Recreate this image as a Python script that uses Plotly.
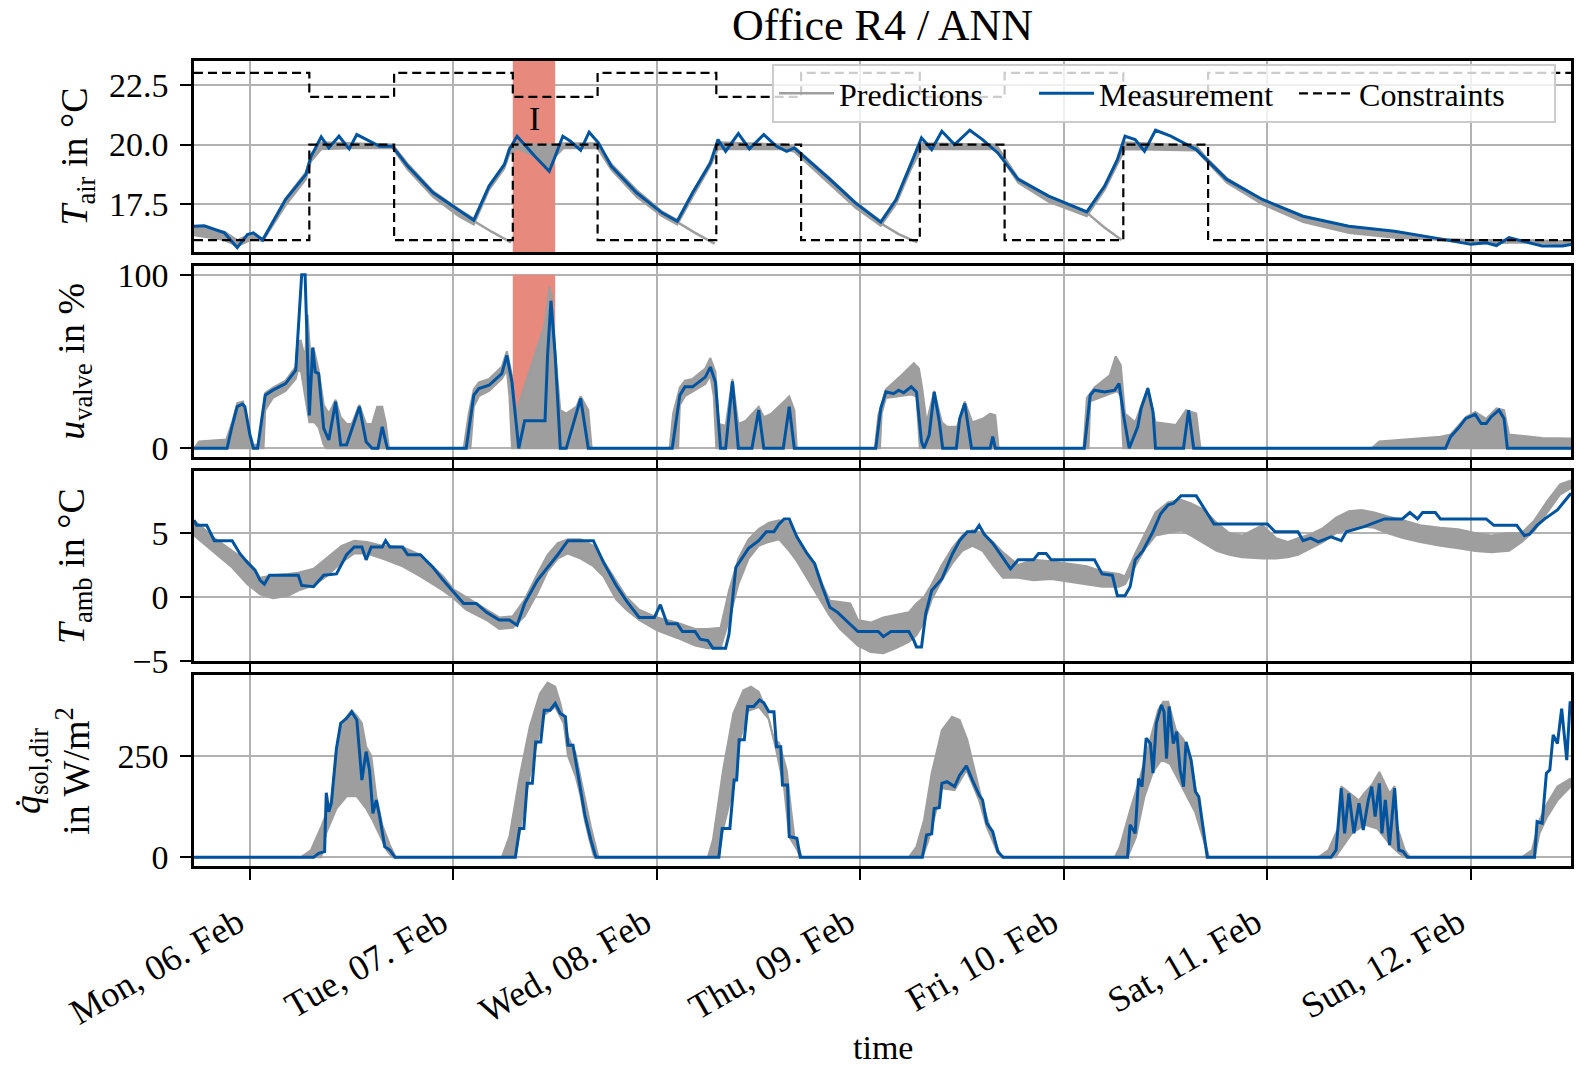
import pandas as pd
import plotly.graph_objects as go

# ---------------- data (time in hours after Mon 06 Feb 2023 00:00) ----------------
BASE = pd.Timestamp("2023-02-06 00:00")
x_range_h = [-6.6, 155.8]
day_ticks_h = [0, 24, 48, 72, 96, 120, 144]
day_labels = ["Mon, 06. Feb", "Tue, 07. Feb", "Wed, 08. Feb", "Thu, 09. Feb",
              "Fri, 10. Feb", "Sat, 11. Feb", "Sun, 12. Feb"]
highlight_h = [31, 36]
highlight_label = "I"

# axis ranges / ticks
tair_range = [15.5, 23.5]
uv_range = [-5, 105]
tamb_range = [-5, 9.84]
qsol_range = [-21.4, 448.6]

# constraints (step)
constr_h = [-6.6, 7, 17, 31, 41, 55, 65, 79, 89, 103, 113, 155.8]
constr_lo = [16, 20, 16, 20, 16, 20, 16, 20, 16, 20, 16, 16]
constr_hi = [23, 22, 23, 22, 23, 22, 23, 22, 23, 22, 23, 23]

# T_air measurement
tair_h = [-6.6, -5.4, -3.0, -1.5, -0.3, 0.4, 1.5, 4.2, 6.6, 7.2, 8.4, 9.3, 10.5, 11.7, 12.6, 13.8, 15.3, 16.8,
          18.6, 21.6, 24.6, 26.4, 28.2, 30.0, 30.6, 31.5, 33.6, 35.3, 36.0, 36.9, 37.8, 39.0, 40.0, 41.1, 42.6,
          45.6, 48.6, 50.4, 52.2, 54.3, 55.2, 56.1, 57.6, 58.9, 60.6, 62.1, 63.3, 64.2, 68.4, 71.4, 74.4, 76.2,
          78.0, 79.2, 80.4, 81.6, 83.1, 84.9, 86.4, 88.2, 90.6, 94.2, 98.7, 100.8, 102.3, 103.2, 104.4, 105.5,
          106.8, 108.6, 111.6, 112.8, 115.2, 119.4, 124.2, 129.6, 135.0, 140.4, 144.0, 145.8, 147.0, 148.5,
          150.0, 152.4, 154.8, 155.8]
tair_v = [16.58, 16.6, 16.3, 15.68, 16.23, 16.3, 16.0, 17.7, 18.75, 19.5, 20.32, 19.86, 20.35, 19.82, 20.42,
          20.2, 19.93, 19.93, 19.1, 17.98, 17.28, 16.83, 18.26, 19.16, 19.8, 20.35, 19.51, 18.88, 19.51, 20.35,
          20.14, 19.76, 20.52, 20.07, 19.1, 17.98, 17.14, 16.79, 17.98, 19.23, 20.21, 19.72, 20.46, 19.82, 20.42,
          19.93, 19.72, 19.86, 18.54, 17.56, 16.75, 17.7, 19.23, 20.28, 19.79, 20.56, 20.0, 20.6, 20.21, 19.65,
          18.54, 17.84, 17.18, 18.26, 19.37, 20.35, 20.21, 19.72, 20.6, 20.35, 19.79, 19.37, 18.54, 17.7, 17.0,
          16.58, 16.37, 16.05, 15.82, 15.89, 15.77, 16.1, 15.96, 15.75, 15.75, 15.82]
# T_air prediction envelope
tair_band_h = [-6.6, -3.0, -1.5, 0.4, 1.5, 4.2, 6.6, 7.2, 8.4, 12.0, 16.8, 18.6, 21.6, 24.6, 26.4, 28.2, 30.0,
               30.6, 31.5, 33.6, 35.3, 36.0, 37.0, 41.0, 42.6, 45.6, 48.6, 50.4, 52.2, 54.3, 55.2, 63.0, 64.2,
               68.4, 71.4, 74.4, 76.2, 78.0, 79.2, 88.0, 90.6, 94.2, 98.7, 100.8, 102.3, 103.2, 111.6, 112.8,
               115.2, 119.4, 124.2, 129.6, 135.0, 140.4, 144.0, 150.0, 155.8]
tair_band_lo = [16.2, 16.0, 15.75, 16.05, 15.95, 17.45, 18.55, 19.3, 19.8, 19.85, 19.85, 18.95, 17.8, 17.0,
                16.65, 18.1, 19.0, 19.6, 19.85, 19.5, 18.9, 19.5, 19.85, 19.85, 18.95, 17.8, 17.0, 16.65, 17.8,
                19.1, 19.8, 19.8, 19.7, 18.35, 17.35, 16.6, 17.5, 19.0, 19.8, 19.8, 18.4, 17.6, 17.0, 18.1, 19.2,
                19.8, 19.75, 19.3, 18.4, 17.5, 16.75, 16.3, 16.1, 16.0, 15.85, 15.9, 15.8]
tair_band_hi = [16.6, 16.35, 16.0, 16.3, 16.05, 17.75, 18.85, 19.6, 20.1, 20.05, 20.0, 19.2, 18.05, 17.3, 16.9,
                18.3, 19.2, 19.9, 20.1, 20.0, 20.0, 20.0, 20.05, 20.05, 19.2, 18.1, 17.2, 16.85, 18.0, 19.3,
                20.1, 20.0, 19.9, 18.6, 17.6, 16.8, 17.7, 19.25, 20.05, 20.0, 18.6, 17.85, 17.2, 18.3, 19.4,
                20.1, 19.95, 19.45, 18.6, 17.7, 17.0, 16.55, 16.35, 16.05, 16.0, 16.0, 15.95]
# single prediction trajectories that keep cooling down
tair_tail_h = [26.4, 28.5, 30.8, None, 50.4, 52.5, 54.8, None, 74.4, 76.5, 78.7, None, 98.7, 100.7, 102.8]
tair_tail_v = [16.8, 16.35, 15.9, None, 16.75, 16.3, 15.85, None, 16.7, 16.25, 15.9, None, 17.15, 16.55, 16.0]

# u_valve measurement
uv_h = [-6.6, -2.7, -2.1, -1.5, -0.9, -0.6, 0.0, 0.4, 0.9, 1.8, 2.7, 4.2, 5.4, 5.6, 5.9, 6.1, 6.5, 6.8, 7.0,
        7.4, 7.7, 8.1, 8.7, 9.3, 10.1, 10.7, 11.4, 12.3, 12.9, 13.7, 14.4, 15.1, 15.6, 16.2, 25.5, 26.4, 27.0,
        28.2, 29.7, 30.3, 30.9, 31.7, 32.4, 34.8, 35.1, 35.5, 36.0, 36.6, 37.3, 39.0, 39.9, 49.8, 50.7, 51.3,
        52.2, 53.7, 54.3, 54.9, 55.5, 56.1, 56.9, 57.6, 59.2, 60.0, 60.6, 62.9, 63.6, 64.2, 73.8, 74.4, 75.0,
        75.9, 76.5, 77.1, 78.0, 78.6, 79.2, 79.5, 80.1, 80.7, 81.3, 81.7, 83.3, 83.7, 84.3, 85.1, 87.3, 87.6,
        87.9, 98.4, 99.1, 99.6, 100.8, 102.0, 102.5, 103.1, 103.7, 104.7, 105.1, 105.9, 106.5, 106.8, 110.1,
        110.7, 111.3, 141.0, 141.6, 142.5, 143.4, 144.5, 145.2, 145.8, 146.4, 147.3, 147.9, 148.3, 155.8]
uv_v = [0, 0, 13, 24, 25.5, 24, 7.6, 0, 0, 30.6, 33.5, 37.3, 45, 61, 80, 100, 100, 53.5, 19, 58, 44, 43, 11.5,
        4.8, 26.8, 1.9, 2, 15, 24, 3.8, 0, 0, 12.4, 0, 0, 30.6, 34.4, 36.3, 43, 53.5, 38, 0, 15.9, 15.9, 53.5,
        85, 53.5, 0, 0, 28.7, 0, 0, 30.6, 35.4, 35.4, 41, 46.8, 38, 0, 0, 38.6, 0, 0, 22, 0, 0, 24, 0, 0, 23,
        32.5, 31.5, 33.5, 32, 35.4, 32.5, 3.8, 0, 7.6, 32.5, 15.3, 0, 0, 17, 25.8, 0, 0, 6.7, 0, 0, 30.6, 33.5,
        32.5, 33.5, 37.3, 17, 0, 12.4, 23, 34.4, 21, 0, 0, 22, 0, 0, 6.7, 11.5, 17.2, 19.5, 14.3, 14.3, 18.2,
        22, 17.2, 0, 0]
# u_valve prediction envelope
uv_hi_h = [-6.6, -6.0, -3.2, -2.8, -2.1, -1.5, -0.8, -0.2, 0.4, 1.0, 1.5, 1.8, 2.7, 4.2, 5.4, 5.6, 6.0, 6.5,
           6.8, 7.1, 7.5, 8.1, 8.7, 9.3, 10.1, 10.7, 11.4, 12.0, 12.9, 13.7, 14.4, 15.0, 15.6, 16.0, 16.4, 25.2,
           25.8, 26.4, 27.0, 28.2, 29.7, 30.3, 30.9, 31.3, 32.0, 33.0, 34.0, 34.8, 35.3, 35.6, 36.0, 36.6, 37.3,
           38.5, 39.0, 39.9, 40.3, 49.5, 49.9, 50.7, 51.3, 52.2, 53.7, 54.3, 54.9, 55.3, 56.1, 56.9, 57.6, 58.5,
           60.0, 60.6, 61.5, 62.4, 63.2, 63.6, 64.2, 64.5, 73.7, 74.1, 75.0, 76.8, 78.3, 78.9, 79.3, 79.8, 80.7,
           81.6, 82.2, 83.4, 84.3, 85.2, 86.4, 87.3, 87.9, 88.3, 98.3, 98.7, 99.6, 101.4, 102.1, 102.7, 103.2,
           104.4, 105.9, 106.8, 109.2, 110.4, 111.6, 112.1, 132.3, 133.2, 140.4, 141.6, 142.5, 143.4, 144.5,
           145.8, 147.0, 147.9, 148.5, 152.4, 155.8]
uv_hi_v = [0, 4, 5, 5, 15, 26, 27, 12, 2, 2, 20, 32, 35, 39, 47, 62, 62, 52, 77, 55, 58, 45, 25, 20, 28, 18,
           14, 14, 25, 14, 14, 24, 24, 15, 0, 0, 20, 34, 38, 40, 47, 56, 42, 20, 30, 45, 60, 72, 93, 88, 55, 22,
           20, 24, 30, 22, 0, 0, 20, 35, 39, 40, 46, 52, 44, 14, 13, 40, 14, 16, 24, 18, 20, 24, 28, 30, 22, 0,
           0, 19, 34, 42, 49, 46, 34, 15, 33, 15, 12.4, 12.4, 27, 15, 17, 20, 19, 0, 0, 29, 35, 42, 53, 48, 20,
           15, 35, 15, 13.4, 22, 20, 0, 0, 4, 6.7, 8, 13, 18, 21, 17, 23, 22, 8, 6, 5.7]
uv_lo_h = [-6.6, 1.6, 1.8, 2.7, 4.2, 5.4, 5.6, 6.0, 6.5, 7.0, 7.6, 8.1, 8.7, 9.0, 26.0, 26.4, 27.0, 28.2, 29.7,
           30.3, 30.6, 30.9, 50.5, 50.7, 51.3, 53.7, 54.3, 54.7, 55.0, 74.3, 74.5, 75.0, 78.0, 78.6, 79.0, 98.9,
           99.1, 100.8, 102.3, 102.7, 103.0, 155.8]
uv_lo_v = [0, 0, 22, 29, 33, 40, 44, 45, 30, 15, 15, 12, 2, 0, 0, 24, 30, 33, 40, 45, 30, 0, 0, 25, 30, 37,
           42, 30, 0, 0, 20, 29, 31, 30, 0, 0, 27, 30, 33, 30, 0, 0]

# T_amb measurement
tamb_h = [-6.6, -6.3, -5.1, -4.2, -2.1, -1.2, -0.3, 0.6, 1.2, 1.7, 2.3, 5.7, 6.1, 7.5, 8.7, 10.2, 11.4, 12.3,
          13.2, 13.7, 14.3, 15.6, 16.0, 16.5, 18.0, 18.6, 20.1, 21.6, 22.8, 24.0, 25.2, 26.7, 27.9, 29.4, 30.6,
          31.5, 32.4, 33.9, 35.1, 36.3, 37.5, 40.5, 41.7, 43.2, 44.4, 45.9, 47.7, 48.4, 49.2, 50.4, 51.0, 52.5,
          53.1, 54.0, 54.6, 56.1, 56.5, 57.3, 58.8, 60.0, 60.9, 61.8, 62.4, 63.0, 63.6, 64.5, 65.7, 66.6, 67.5,
          68.4, 69.3, 70.8, 71.7, 74.1, 74.7, 75.6, 77.7, 78.3, 78.6, 79.2, 79.7, 80.4, 81.6, 82.8, 83.7, 84.6,
          85.5, 86.0, 86.6, 87.6, 88.8, 89.7, 90.6, 92.4, 93.0, 93.9, 94.5, 99.6, 100.5, 101.7, 102.3, 103.2,
          103.8, 104.4, 105.3, 106.5, 107.4, 108.3, 108.9, 109.8, 111.6, 112.5, 113.7, 120.0, 120.9, 123.6,
          124.2, 125.1, 126.0, 127.5, 128.7, 129.3, 131.4, 133.8, 135.9, 136.8, 137.7, 138.3, 139.8, 140.4,
          145.8, 146.7, 149.4, 150.3, 150.9, 151.8, 152.7, 154.2, 155.4, 155.8]
tamb_v = [6.0, 5.6, 5.6, 4.4, 4.4, 3.4, 2.7, 2.1, 1.3, 1.0, 1.7, 1.7, 0.9, 0.8, 1.7, 1.8, 3.3, 3.9, 3.9, 2.9,
          3.9, 3.9, 4.4, 3.9, 3.9, 3.3, 3.3, 2.3, 1.3, 0.4, -0.5, -0.5, -1.2, -1.8, -1.8, -2.2, -0.5, 1.3, 2.3,
          3.3, 4.4, 4.4, 2.7, 0.9, -0.3, -1.6, -1.6, -0.6, -2.1, -2.1, -2.7, -2.7, -3.3, -3.4, -4.0, -4.0, -2.9,
          2.3, 3.8, 4.4, 5.1, 5.1, 5.7, 6.1, 6.1, 4.7, 3.4, 2.6, 0.8, -0.8, -1.2, -2.1, -2.7, -2.7, -3.1, -2.7,
          -2.7, -3.4, -3.9, -3.9, -1.3, 0.5, 1.4, 3.3, 4.4, 5.1, 5.1, 5.6, 4.9, 4.2, 3.1, 2.2, 2.9, 2.9, 3.4,
          3.4, 2.9, 2.9, 1.8, 1.7, 0.1, 0.1, 0.8, 2.9, 3.6, 5.1, 6.5, 7.2, 7.3, 7.9, 7.9, 7.0, 5.7, 5.7, 5.1,
          5.1, 4.4, 4.6, 4.3, 4.7, 4.4, 5.1, 5.5, 6.1, 6.1, 6.6, 6.1, 6.6, 6.6, 6.1, 6.1, 5.6, 5.6, 4.8, 4.9,
          5.6, 6.1, 6.8, 7.8, 8.1]
# T_amb prediction envelope
tamb_band_h = [-6.6, -4.2, -2.1, -0.3, 1.2, 2.7, 4.5, 5.7, 7.5, 9.0, 10.8, 12.3, 13.8, 15.6, 18.0, 20.1, 22.8,
               24.0, 25.5, 27.9, 29.4, 31.0, 32.4, 33.9, 35.1, 36.3, 37.5, 39.0, 40.5, 41.7, 43.2, 44.4, 45.9,
               48.0, 50.4, 52.5, 54.0, 55.5, 56.5, 57.6, 58.8, 60.0, 61.2, 62.4, 63.6, 64.5, 65.7, 66.6, 67.5,
               68.4, 69.6, 70.8, 71.7, 73.2, 74.7, 76.2, 77.7, 78.6, 79.5, 80.4, 81.6, 82.8, 84.0, 85.2, 86.4,
               87.6, 88.8, 90.6, 92.4, 94.5, 96.6, 98.7, 100.5, 101.7, 102.5, 103.2, 104.4, 105.6, 106.8, 108.3,
               109.8, 111.0, 112.5, 114.0, 115.5, 117.0, 119.4, 121.0, 122.4, 123.6, 125.1, 126.6, 128.1, 129.6,
               131.1, 132.6, 134.1, 136.0, 138.0, 140.4, 142.5, 144.5, 146.4, 148.5, 150.0, 151.5, 153.0, 154.5,
               155.8]
tamb_band_lo = [4.8, 3.5, 2.3, 1.0, 0.2, -0.1, 0.1, 0.5, 0.9, 1.6, 2.7, 3.4, 3.4, 3.0, 2.4, 1.6, 0.5, -0.1,
                -1.0, -1.8, -2.5, -2.4, -1.5, 0.3, 2.0, 3.0, 3.4, 3.0, 2.4, 1.6, -0.2, -1.0, -1.8, -2.6, -3.2,
                -3.8, -4.0, -4.0, -1.8, 1.0, 3.0, 4.0, 4.3, 4.5, 3.6, 2.8, 1.5, 0.5, -0.5, -1.5, -2.5, -3.2,
                -3.8, -4.3, -4.4, -4.0, -3.5, -3.0, -2.0, -0.2, 1.3, 2.6, 3.6, 4.0, 3.6, 2.5, 1.5, 1.5, 1.3, 1.4,
                1.2, 1.0, 0.8, 0.8, 0.8, 1.0, 2.4, 3.8, 4.8, 5.0, 5.2, 4.8, 4.2, 3.6, 3.3, 3.1, 3.0, 3.0, 3.1,
                3.3, 3.8, 4.3, 5.0, 5.3, 5.5, 5.4, 5.0, 4.6, 4.3, 4.0, 3.8, 3.6, 3.5, 3.6, 4.3, 5.2, 6.6, 8.0,
                8.5]
tamb_band_hi = [6.0, 4.6, 3.6, 2.8, 1.5, 1.7, 1.8, 1.9, 2.2, 3.0, 4.0, 4.4, 4.3, 4.0, 3.9, 3.3, 1.6, 0.6, 0.0,
                -1.0, -1.6, -1.5, -0.2, 1.8, 3.3, 4.2, 4.5, 4.5, 4.0, 2.8, 1.2, 0.0, -1.0, -1.6, -2.0, -2.5,
                -2.5, -2.4, 0.5, 3.0, 4.5, 5.3, 5.8, 6.0, 5.8, 4.7, 3.4, 2.6, 1.0, -0.3, -0.4, -0.5, -1.8, -2.0,
                -1.6, -1.4, -1.2, -0.5, 0.0, 1.0, 2.5, 3.8, 4.8, 5.2, 5.0, 4.3, 3.5, 2.5, 2.9, 2.8, 2.6, 2.4,
                2.0, 1.9, 1.8, 1.6, 3.4, 5.0, 6.6, 7.4, 7.6, 7.3, 6.8, 5.8, 5.0, 4.8, 5.6, 4.6, 4.3, 4.6, 4.9,
                5.4, 6.2, 6.7, 6.8, 6.6, 6.3, 6.0, 5.6, 5.4, 5.3, 5.0, 4.8, 5.0, 5.0, 6.0, 7.5, 8.8, 9.1]

# q_sol,dir measurement
qsol_h = [-6.6, 7.5, 8.1, 8.8, 9.0, 9.3, 9.6, 10.2, 10.7, 11.4, 12.0, 12.6, 13.2, 13.7, 14.1, 14.5, 14.9, 15.3,
          15.9, 16.5, 17.1,
          31.3, 31.8, 32.3, 32.7, 33.3, 33.7, 34.3, 34.7, 35.4, 36.0, 36.6, 37.2, 37.5, 38.1, 38.4, 39.0, 39.5,
          40.2, 40.8,
          55.3, 55.7, 56.6, 57.1, 57.4, 57.7, 58.3, 58.7, 59.4, 60.1, 60.6, 61.2, 61.8, 62.1, 62.6, 62.8, 63.4,
          63.6, 64.5, 64.9,
          79.3, 79.8, 80.4, 80.7, 81.3, 81.6, 82.2, 83.1, 83.7, 84.5, 85.2, 86.0, 86.4, 86.9, 87.6, 88.2, 88.8,
          103.5, 103.8, 104.4, 104.8, 105.2, 105.7, 106.2, 106.5, 106.9, 107.5, 107.8, 108.1, 108.4, 108.9,
          109.3, 109.7, 110.1, 110.4, 111.0, 111.5, 111.9, 112.5, 112.9,
          127.5, 128.1, 128.7, 129.1, 129.6, 130.2, 130.8, 131.3, 131.9, 132.3, 132.7, 133.2, 133.5, 133.9,
          134.4, 135.0, 135.5, 136.0, 136.5,
          151.5, 151.8, 152.4, 152.9, 153.3, 153.7, 154.2, 154.7, 155.3, 155.7, 155.8]
qsol_v = [0, 0, 10, 14, 159, 112, 133, 268, 330, 342, 358, 338, 190, 260, 215, 108, 141, 100, 26, 18, 0,
          0, 71, 71, 182, 182, 284, 284, 362, 362, 379, 354, 346, 276, 276, 239, 174, 104, 43, 0,
          0, 71, 71, 190, 190, 289, 289, 371, 371, 387, 380, 358, 358, 272, 272, 178, 178, 51, 47, 0,
          0, 55, 58, 120, 122, 182, 186, 174, 202, 225, 190, 153, 141, 84, 63, 14, 0,
          0, 80, 59, 194, 174, 293, 280, 207, 330, 375, 358, 243, 371, 280, 309, 215, 174, 284, 239, 162, 149,
          59, 0,
          0, 18, 170, 59, 157, 59, 133, 67, 141, 174, 100, 182, 59, 141, 30, 170, 18, 14, 0,
          0, 88, 84, 207, 215, 301, 280, 366, 239, 383, 380]
# q_sol,dir prediction envelope
qsol_hi_h = [-6.6, 6.0, 7.2, 8.4, 9.6, 10.2, 10.8, 12.0, 12.6, 13.2, 13.7, 14.3, 14.9, 15.6, 16.5, 17.2, 29.7,
             30.6, 31.8, 33.0, 34.2, 35.1, 36.0, 36.6, 37.5, 38.4, 39.3, 40.2, 41.1, 54.0, 54.6, 55.8, 57.0,
             58.2, 59.1, 60.0, 60.9, 61.8, 62.4, 63.3, 63.8, 64.2, 65.1, 77.7, 78.6, 79.5, 80.4, 81.6, 82.8,
             83.7, 84.6, 85.5, 86.4, 87.6, 88.5, 89.1, 102.0, 102.6, 103.8, 105.0, 106.2, 107.1, 107.7, 108.3,
             109.2, 110.1, 111.0, 112.2, 113.1, 126.0, 127.2, 128.4, 128.7, 129.6, 130.8, 131.4, 132.3, 133.2,
             134.4, 135.0, 135.3, 136.2, 136.8, 150.0, 151.2, 152.1, 153.0, 154.2, 155.8]
qsol_hi_v = [0, 0, 18, 75, 140, 270, 330, 362, 348, 330, 272, 250, 150, 80, 30, 0, 0, 51, 198, 321, 403, 430,
             420, 379, 297, 256, 165, 75, 0, 0, 43, 215, 354, 411, 420, 407, 362, 289, 282, 215, 120, 51, 0, 0,
             26, 92, 207, 313, 346, 338, 289, 207, 133, 51, 6, 0, 0, 26, 116, 198, 289, 362, 383, 383, 313, 290,
             240, 75, 0, 0, 18, 75, 175, 160, 140, 157, 178, 210, 157, 175, 75, 18, 0, 0, 18, 92, 133, 174, 194]
qsol_lo_h = [-6.6, 8.4, 9.0, 10.2, 11.4, 12.6, 13.7, 14.5, 15.3, 16.2, 16.8, 31.3, 31.8, 32.7, 33.7, 34.7,
             36.0, 37.0, 37.5, 38.4, 39.0, 39.5, 40.2, 40.6, 55.3, 55.7, 57.1, 57.7, 58.7, 60.0, 61.2, 62.1,
             63.0, 63.6, 64.5, 64.9, 79.3, 80.0, 81.6, 83.1, 84.5, 85.2, 86.0, 86.9, 88.2, 88.8, 103.5, 104.5,
             105.5, 106.5, 107.5, 108.5, 109.5, 110.5, 111.5, 112.5, 113.0, 128.0, 129.0, 130.0, 131.5, 133.0,
             134.5, 135.5, 136.2, 151.5, 152.1, 153.0, 154.2, 155.8]
qsol_lo_v = [0, 0, 60, 120, 150, 150, 120, 90, 55, 15, 0, 0, 60, 170, 270, 350, 370, 330, 250, 200, 150, 90,
             30, 0, 0, 60, 180, 280, 360, 370, 340, 260, 170, 50, 20, 0, 0, 40, 170, 165, 215, 180, 140, 75,
             10, 0, 0, 50, 150, 210, 240, 230, 190, 150, 110, 40, 0, 0, 30, 60, 80, 70, 30, 10, 0, 0, 60, 100,
             140, 175]

# ---------------- styling ----------------
FONT = "Liberation Serif"
BLUE = "rgb(0,84,159)"
GREY = "rgb(158,158,158)"
GRID = "rgb(178,178,178)"
RED = "rgb(232,137,125)"


def ts(hours):
    return [None if h is None else (BASE + pd.Timedelta(minutes=round(h * 60))).strftime("%Y-%m-%d %H:%M:%S")
            for h in hours]


fig = go.Figure()


def band(lo_h, lo_v, hi_h, hi_v, xa, ya):
    fig.add_trace(go.Scatter(x=ts(lo_h), y=lo_v, mode="lines", line=dict(color=GREY, width=2),
                             showlegend=False, hoverinfo="skip", xaxis=xa, yaxis=ya))
    fig.add_trace(go.Scatter(x=ts(hi_h), y=hi_v, mode="lines", line=dict(color=GREY, width=2),
                             fill="tonexty", fillcolor=GREY, showlegend=False, hoverinfo="skip",
                             xaxis=xa, yaxis=ya))


def highlight(y0, y1, xa, ya):
    a, b = highlight_h
    fig.add_trace(go.Scatter(x=ts([a, a, b, b, a]), y=[y0, y1, y1, y0, y0], mode="lines", fill="toself",
                             fillcolor=RED, line=dict(width=0, color=RED), showlegend=False,
                             hoverinfo="skip", xaxis=xa, yaxis=ya))


# panel 1
highlight(tair_range[0], tair_range[1], "x", "y")
band(tair_band_h, tair_band_lo, tair_band_h, tair_band_hi, "x", "y")
fig.add_trace(go.Scatter(x=ts(tair_tail_h), y=tair_tail_v, mode="lines", name="Predictions",
                         line=dict(color=GREY, width=2.5), xaxis="x", yaxis="y"))
fig.add_trace(go.Scatter(x=ts(tair_h), y=tair_v, mode="lines", name="Measurement",
                         line=dict(color=BLUE, width=3), xaxis="x", yaxis="y"))
fig.add_trace(go.Scatter(x=ts(constr_h), y=constr_lo, mode="lines", name="Constraints", line_shape="hv",
                         line=dict(color="black", width=2.2, dash="9px,5px"), xaxis="x", yaxis="y"))
fig.add_trace(go.Scatter(x=ts(constr_h), y=constr_hi, mode="lines", showlegend=False, line_shape="hv",
                         line=dict(color="black", width=2.2, dash="9px,5px"), xaxis="x", yaxis="y"))

# panel 2
highlight(0, 100, "x2", "y2")
band(uv_lo_h, uv_lo_v, uv_hi_h, uv_hi_v, "x2", "y2")
fig.add_trace(go.Scatter(x=ts(uv_h), y=uv_v, mode="lines", showlegend=False,
                         line=dict(color=BLUE, width=3), xaxis="x2", yaxis="y2"))
# panel 3
band(tamb_band_h, tamb_band_lo, tamb_band_h, tamb_band_hi, "x3", "y3")
fig.add_trace(go.Scatter(x=ts(tamb_h), y=tamb_v, mode="lines", showlegend=False,
                         line=dict(color=BLUE, width=3), xaxis="x3", yaxis="y3"))
# panel 4
band(qsol_lo_h, qsol_lo_v, qsol_hi_h, qsol_hi_v, "x4", "y4")
fig.add_trace(go.Scatter(x=ts(qsol_h), y=qsol_v, mode="lines", showlegend=False,
                         line=dict(color=BLUE, width=3), xaxis="x4", yaxis="y4"))

W, H = 1579, 1091
ML, MR, MT, MB = 194, 5, 61, 225
PH = H - MT - MB
PW = W - ML - MR
panel_px = [(61, 252), (266, 457), (471, 661), (675, 866)]
domains = [[(H - MB - b) / PH, (H - MB - t) / PH] for t, b in panel_px]

axis_common = dict(showline=True, linecolor="black", linewidth=2.5, mirror=True, ticks="outside",
                   ticklen=11, tickwidth=2, tickcolor="black", showgrid=True, gridcolor=GRID,
                   gridwidth=2, zeroline=False)

xr = ts(x_range_h)
layout = dict(width=W, height=H, margin=dict(l=ML, r=MR, t=MT, b=MB),
              paper_bgcolor="white", plot_bgcolor="white", font=dict(family=FONT, color="black"),
              showlegend=True,
              legend=dict(orientation="h", x=(1559 - ML) / PW, xanchor="right",
                          y=(H - MB - 64) / PH, yanchor="top", font=dict(family=FONT, size=32, color="black"),
                          bgcolor="rgba(255,255,255,0.8)", bordercolor="rgb(204,204,204)",
                          borderwidth=2, itemwidth=55, entrywidth=190, entrywidthmode="pixels",
                          traceorder="normal"))

yspec = [
    dict(range=tair_range, tickvals=[17.5, 20.0, 22.5], ticktext=["17.5", "20.0", "22.5"]),
    dict(range=uv_range, tickvals=[0, 100], ticktext=["0", "100"]),
    dict(range=tamb_range, tickvals=[-5, 0, 5], ticktext=["\u22125", "0", "5"]),
    dict(range=qsol_range, tickvals=[0, 250], ticktext=["0", "250"]),
]
for i in range(4):
    sfx = "" if i == 0 else str(i + 1)
    xa = dict(axis_common, domain=[0, 1], range=xr, anchor="y" + sfx, type="date",
              tickvals=ts(day_ticks_h), ticktext=day_labels, tickangle=-30,
              tickfont=dict(family=FONT, size=36, color="black"), showticklabels=(i == 3),
              ticklabelstandoff=8, ticklabelshift=-12)
    if i > 0:
        xa["matches"] = "x"
    ya = dict(axis_common, domain=domains[i], anchor="x" + sfx, ticklabelstandoff=5,
              tickfont=dict(family=FONT, size=34, color="black"), **yspec[i])
    layout["xaxis" + sfx] = xa
    layout["yaxis" + sfx] = ya

fig.update_layout(**layout)

fig.add_annotation(x=ts([(highlight_h[0] + highlight_h[1]) / 2])[0], y=21.1, xref="x", yref="y",
                   text=highlight_label, showarrow=False, font=dict(family=FONT, size=34, color="black"))

# titles
fig.add_annotation(x=0.5, y=1 + (MT - 25) / PH, xref="paper", yref="paper", text="Office R4 / ANN",
                   showarrow=False, font=dict(family=FONT, size=44, color="black"),
                   xanchor="center", yanchor="middle")
fig.add_annotation(x=0.5, y=(H - MB - 1047) / PH, xref="paper", yref="paper", text="time",
                   showarrow=False, font=dict(family=FONT, size=34, color="black"),
                   xanchor="center", yanchor="middle")
ylabels = ["<i>T</i><sub>air</sub> in °C", "<i>u</i><sub>valve</sub> in %", "<i>T</i><sub>amb</sub> in °C",
           "<i>q\u0307</i><sub>sol,dir</sub><br>in W/m<sup>2</sup>"]
ylabel_x = [76, 74, 74, 51]
for i, txt in enumerate(ylabels):
    fig.add_annotation(x=(ylabel_x[i] - ML) / PW, y=sum(domains[i]) / 2, xref="paper", yref="paper",
                       text=txt, textangle=-90, showarrow=False,
                       font=dict(family=FONT, size=38, color="black"), xanchor="center", yanchor="middle")

fig.write_html("out.html")
